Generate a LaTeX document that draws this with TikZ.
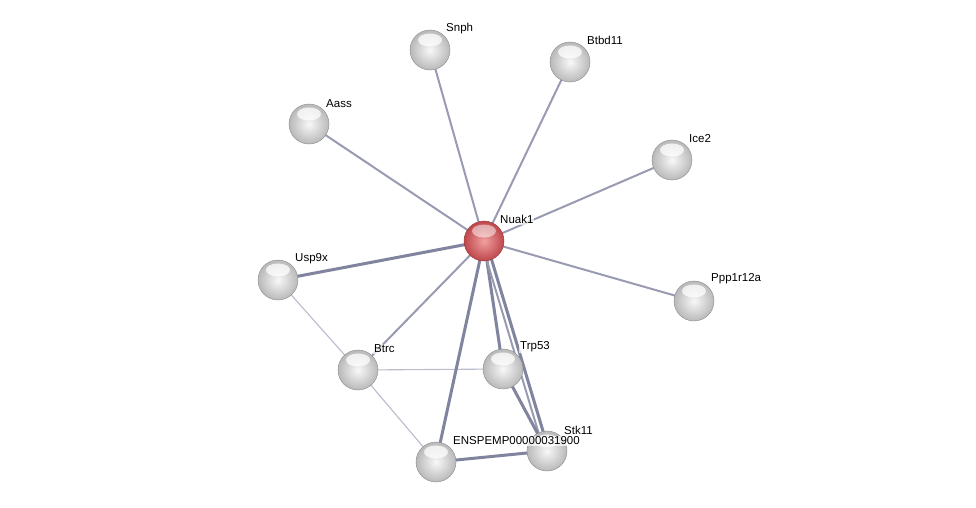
\documentclass[tikz,border=0pt]{standalone}
\usepackage{fontspec}
\setmainfont{Liberation Sans}
\begin{document}
\begin{tikzpicture}[x=1pt,y=-1pt,
  edgemid/.style={line width=2pt, color={rgb,255:red,152;green,155;blue,178}},
  edgethick/.style={line width=3pt, color={rgb,255:red,128;green,132;blue,158}},
  edgelight/.style={line width=1.1pt, color={rgb,255:red,185;green,188;blue,205}},
  lbl/.style={font=\fontsize{11.5}{13}\selectfont, anchor=south west, inner sep=1pt, fill=white, fill opacity=0.7, text opacity=1},
  ball/.style={circle, minimum size=40pt, inner sep=0pt, draw={rgb,255:red,140;green,140;blue,140}, line width=0.4pt, shading=radial, inner color={rgb,255:red,248;green,248;blue,248}, outer color={rgb,255:red,185;green,185;blue,185}},
  redball/.style={circle, minimum size=40pt, inner sep=0pt, draw={rgb,255:red,150;green,60;blue,60}, line width=0.4pt, shading=radial, inner color={rgb,255:red,240;green,160;blue,160}, outer color={rgb,255:red,190;green,70;blue,75}},
  hilite/.style={white, opacity=0.75},
]
\useasboundingbox (0,0) rectangle (976,507);
\fill[white] (0,0) rectangle (976,507);
\coordinate (pNuak1) at (484,241);
\coordinate (pSnph) at (430,50);
\coordinate (pBtbd11) at (570,62);
\coordinate (pAass) at (309,124);
\coordinate (pIce2) at (672,160);
\coordinate (pUsp9x) at (278,280);
\coordinate (pPpp) at (694,301);
\coordinate (pBtrc) at (358,370);
\coordinate (pTrp53) at (503,369);
\coordinate (pENS) at (436,462);
\coordinate (pStk11) at (547,451);
% edges
\draw[edgelight] (pUsp9x) -- (pBtrc);
\draw[edgelight] (pBtrc) -- (pTrp53);
\draw[edgelight] (pBtrc) -- (pENS);
\draw[edgemid] (pNuak1) -- (pSnph);
\draw[edgemid] (pNuak1) -- (pBtbd11);
\draw[edgemid] (pNuak1) -- (pAass);
\draw[edgemid] (pNuak1) -- (pIce2);
\draw[edgemid] (pNuak1) -- (pPpp);
\draw[edgemid] (pNuak1) -- (pBtrc);
\draw[edgethick] (pNuak1) -- (pUsp9x);
\draw[edgethick] (pNuak1) -- (pTrp53);
\draw[edgethick] (pNuak1) -- (pENS);
\draw[edgethick] ([xshift=2pt]pNuak1) -- ([xshift=2pt]pStk11);
\draw[edgemid] ([xshift=-3pt]pNuak1) -- ([xshift=-3pt]pStk11);
\draw[edgethick] (pTrp53) -- (pStk11);
\draw[edgethick] (pENS) -- (pStk11);
% nodes
\foreach \n in {Snph,Btbd11,Aass,Ice2,Usp9x,Ppp,Btrc,Trp53,ENS,Stk11}{
  \node[ball] (\n) at (p\n) {};
  \fill[hilite] ([yshift=10pt]p\n) ellipse (12pt and 6.5pt);
}
\node[redball] (Nuak1) at (pNuak1) {};
\fill[hilite, opacity=0.5] ([yshift=10pt]pNuak1) ellipse (12pt and 6.5pt);
% labels
\node[lbl] (lNuak1) at (499,225) {Nuak1};
\node[lbl] (lSnph) at (445,35) {Snph};
\node[lbl] (lBtbd11) at (586,46) {Btbd11};
\node[lbl] (lAass) at (325,109) {Aass};
\node[lbl] (lIce2) at (688,144) {Ice2};
\node[lbl] (lUsp9x) at (294,265) {Usp9x};
\node[lbl] (lPpp) at (710,285) {Ppp1r12a};
\node[lbl] (lBtrc) at (373,354) {Btrc};
\node[lbl] (lTrp53) at (519,353) {Trp53};
\node[lbl] (lStk11) at (563,436) {Stk11};
\node[lbl] (lENS) at (452,446) {ENSPEMP00000031900};
\end{tikzpicture}
\end{document}
